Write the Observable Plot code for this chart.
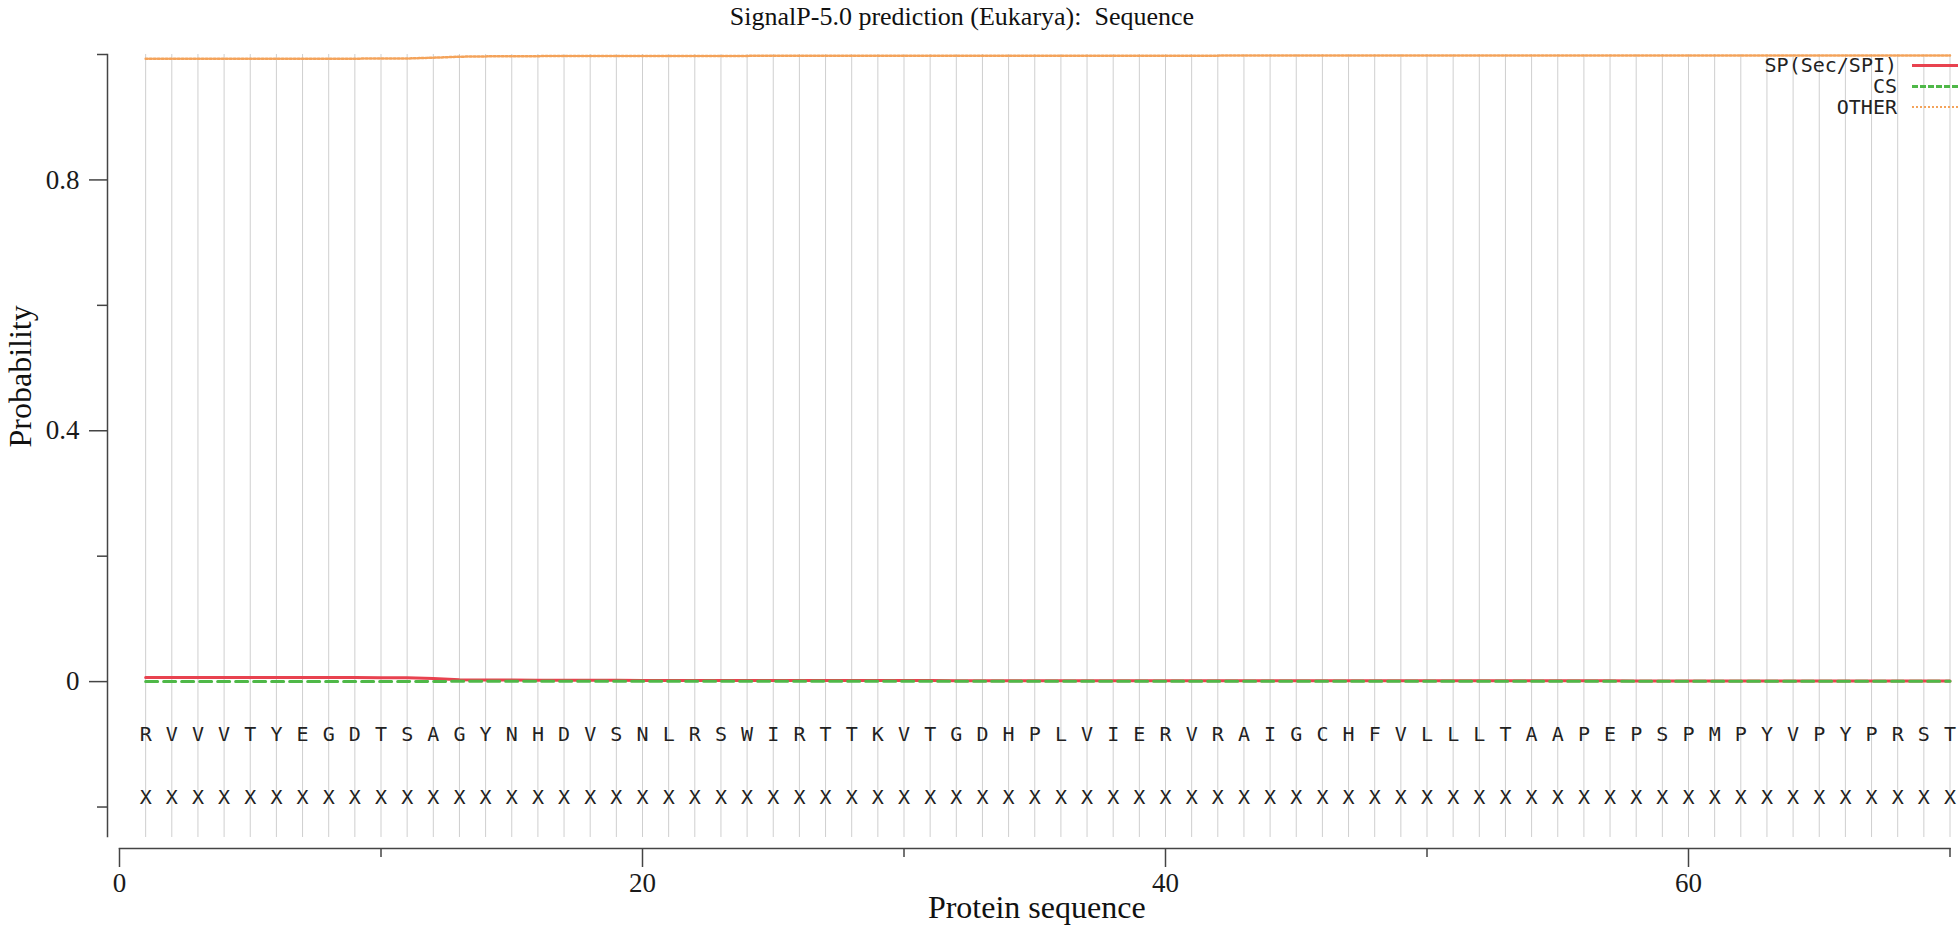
<!DOCTYPE html>
<html>
<head>
<meta charset="utf-8">
<script src="https://cdn.jsdelivr.net/npm/d3@7"></script>
<script src="https://cdn.jsdelivr.net/npm/@observablehq/plot@0.6"></script>
<style>
  html, body { margin: 0; padding: 0; background: #fff; }
  #wrap { position: relative; width: 1960px; height: 934px; overflow: hidden; }
  #title { height: 34px; line-height: 34px; width: 1960px; box-sizing: border-box; padding-right: 36px; white-space: pre;
           text-align: center; font-family: 'Liberation Serif', 'Times New Roman', serif; font-size: 26px; color: #111; }
  .leg-text { position: absolute; font-family: 'DejaVu Sans Mono', monospace; font-size: 20px; color: #222;
              right: 63px; line-height: 22px; white-space: pre; }
  .leg-sw { position: absolute; left: 1912px; width: 46px; height: 0; }
</style>
</head>
<body>
<div id="wrap">
  <div id="title">SignalP-5.0 prediction (Eukarya):  Sequence</div>
  <div id="chart"></div>
  <div id="legend"></div>
</div>
<script>
// ---- data ----
const residues = "RVVVTYEGDTSAGYNHDVSNLRSWIRTTKVTGDHPLVIERVRAIGCHFVLLLTAAPEPSPMPYVPYPRST".split("");
const annotation = "XXXXXXXXXXXXXXXXXXXXXXXXXXXXXXXXXXXXXXXXXXXXXXXXXXXXXXXXXXXXXXXXXXXXXX".split("");
const spProb = [0.0066,0.0066,0.0066,0.0066,0.0065,0.0065,0.0065,0.0064,0.0064,0.0063,
                0.0062,0.0048,0.0031,0.0026,0.0024,0.0022,0.0021,0.0020,0.0020,0.0019,
                0.0019,0.0018,0.0018,0.0018,0.0017,0.0017,0.0017,0.0016,0.0016,0.0016,
                0.0016,0.0015,0.0015,0.0015,0.0015,0.0015,0.0014,0.0014,0.0014,0.0014,
                0.0014,0.0014,0.0013,0.0013,0.0013,0.0013,0.0013,0.0013,0.0013,0.0012,
                0.0012,0.0012,0.0012,0.0012,0.0012,0.0012,0.0012,0.0011,0.0011,0.0011,
                0.0011,0.0011,0.0011,0.0011,0.0011,0.0011,0.0010,0.0010,0.0010,0.0010];
const csProb = [0.0002,0.0002,0.0002,0.0002,0.0002,0.0002,0.0002,0.0002,0.0002,0.0002,
                0.0002,0.0003,0.0004,0.0004,0.0004,0.0004,0.0004,0.0004,0.0004,0.0004,
                0.0004,0.0004,0.0004,0.0004,0.0004,0.0004,0.0004,0.0004,0.0004,0.0004,
                0.0004,0.0004,0.0004,0.0004,0.0004,0.0004,0.0004,0.0004,0.0004,0.0004,
                0.0004,0.0004,0.0004,0.0004,0.0004,0.0004,0.0004,0.0004,0.0004,0.0004,
                0.0004,0.0004,0.0004,0.0004,0.0004,0.0004,0.0004,0.0004,0.0004,0.0004,
                0.0004,0.0004,0.0004,0.0004,0.0004,0.0004,0.0004,0.0004,0.0004,0.0004];
const otherProb = [0.9932,0.9932,0.9932,0.9932,0.9933,0.9933,0.9933,0.9934,0.9934,0.9935,
                   0.9936,0.9949,0.9965,0.9970,0.9972,0.9974,0.9975,0.9976,0.9976,0.9977,
                   0.9977,0.9978,0.9978,0.9978,0.9979,0.9979,0.9979,0.9980,0.9980,0.9980,
                   0.9980,0.9981,0.9981,0.9981,0.9981,0.9981,0.9982,0.9982,0.9982,0.9982,
                   0.9982,0.9982,0.9983,0.9983,0.9983,0.9983,0.9983,0.9983,0.9983,0.9984,
                   0.9984,0.9984,0.9984,0.9984,0.9984,0.9984,0.9984,0.9985,0.9985,0.9985,
                   0.9985,0.9985,0.9985,0.9985,0.9985,0.9985,0.9986,0.9986,0.9986,0.9986];
const xMajorTicks = [0, 20, 40, 60];
const xMinorTicks = [10, 30, 50, 70];
const yMajorTicks = [0.8, 0.4, 0];
const yMinorTicks = [1.0, 0.6, 0.2, -0.2];
const xDomain = [0, 70];
const yDomain = [-0.247, 1];
const seriesNames = ["SP(Sec/SPI)", "CS", "OTHER"];
const seriesColors = ["#e8424f", "#4fb848", "#f4a35a"];

// ---- table ----
const table = residues.map((aa, i) => ({
  pos: i + 1, aa, ann: annotation[i], sp: spProb[i], cs: csProb[i], other: otherProb[i]
}));

const serif = "'Liberation Serif', 'Times New Roman', serif";
const mono = "'DejaVu Sans Mono', monospace";
const axisColor = "#444";

const chart = Plot.plot({
  width: 1960,
  height: 900,
  marginTop: 20,
  marginBottom: 86,
  marginLeft: 107,
  marginRight: 10.5,
  x: {domain: xDomain, insetLeft: 12, label: null},
  y: {domain: yDomain, insetBottom: 12, label: null},
  style: {fontFamily: serif, fontSize: "26px", color: "#1a1a1a", background: "white", overflow: "visible"},
  marks: [
    Plot.ruleX(table, {x: "pos", stroke: "#cfcfcf", strokeWidth: 1, insetBottom: 11}),
    Plot.frame({anchor: "left", insetBottom: 12, stroke: axisColor, strokeWidth: 1.5}),
    Plot.frame({anchor: "bottom", insetLeft: 12, stroke: axisColor, strokeWidth: 1.5}),
    Plot.axisY({ticks: yMajorTicks, tickSize: 18, tickPadding: 10, tickFormat: d => String(d),
                stroke: axisColor, strokeWidth: 1.5, fontSize: 27, label: null}),
    Plot.axisY({ticks: yMinorTicks, tickSize: 10, tickFormat: () => "", stroke: axisColor, strokeWidth: 1.5, label: null}),
    Plot.axisX({ticks: xMajorTicks, tickSize: 19, tickPadding: 5, tickFormat: d => String(d),
                stroke: axisColor, strokeWidth: 1.5, fontSize: 27, label: null}),
    Plot.axisX({ticks: xMinorTicks, tickSize: 9, tickFormat: () => "", stroke: axisColor, strokeWidth: 1.5, label: null}),
    Plot.line(table, {x: "pos", y: "other", stroke: seriesColors[2], strokeWidth: 2.5, strokeDasharray: "2,2"}),
    Plot.line(table, {x: "pos", y: "sp", stroke: seriesColors[0], strokeWidth: 3}),
    Plot.line(table, {x: "pos", y: "cs", stroke: seriesColors[1], strokeWidth: 3, strokeDasharray: "12,6"}),
    Plot.text(table, {x: "pos", text: "aa", frameAnchor: "bottom", dy: -108, fontFamily: mono, fontSize: 20, fill: "#222"}),
    Plot.text(table, {x: "pos", text: "ann", frameAnchor: "bottom", dy: -45, fontFamily: mono, fontSize: 20, fill: "#222"}),
    Plot.text(["Probability"], {text: d => d, frameAnchor: "left", dx: -87, dy: -4, rotate: -90, fontSize: 32, fill: "#111"}),
    Plot.text(["Protein sequence"], {text: d => d, frameAnchor: "bottom", dx: 8, dy: 69, fontSize: 32, fill: "#111"})
  ]
});
document.getElementById("chart").appendChild(chart);

// ---- legend ----
const legend = document.getElementById("legend");
const legendY = [65, 86, 107];
const dashes = ["solid", "dashed", "dotted"];
seriesNames.forEach((name, i) => {
  const t = document.createElement("div");
  t.className = "leg-text";
  t.style.top = (legendY[i] - 11) + "px";
  t.textContent = name;
  legend.appendChild(t);
  const s = document.createElement("div");
  s.className = "leg-sw";
  s.style.top = (legendY[i] - 1.5) + "px";
  s.style.borderTop = (i === 2 ? "2px " : "3px ") + dashes[i] + " " + seriesColors[i];
  legend.appendChild(s);
});
</script>
</body>
</html>
